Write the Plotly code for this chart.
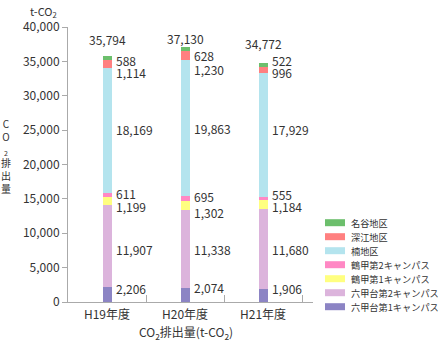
import plotly.graph_objects as go

years = ["H19年度", "H20年度", "H21年度"]
series_names = ["六甲台第1キャンパス", "六甲台第2キャンパス", "鶴甲第1キャンパス",
                "鶴甲第2キャンパス", "楠地区", "深江地区", "名谷地区"]
rokko1 = [2206, 2074, 1906]
rokko2 = [11907, 11338, 11680]
tsuru1 = [1199, 1302, 1184]
tsuru2 = [611, 695, 555]
kusunoki = [18169, 19863, 17929]
fukae = [1114, 1230, 996]
myodani = [588, 628, 522]
totals = [35794, 37130, 34772]
series_values = [rokko1, rokko2, tsuru1, tsuru2, kusunoki, fukae, myodani]
colors = ["#8c84c4", "#dcb4dc", "#ffff80", "#ff88c4", "#b4e4ee", "#ff8080", "#6cbf6c"]

# label pixel nudges (per series, per year) to avoid overlap
label_shift = [
    [6, 7, 7],
    [-4, -1, -1],
    [-6, -7, -2],
    [1, 2, 4],
    [1, -1, 6],
    [-9, -14, -3],
    [-3, -7, 4],
]
total_shift = [16, 8, 19]

FONT = "Noto Sans CJK JP"
TXT = "#333333"

fig = go.Figure()
for name, vals, col in zip(series_names, series_values, colors):
    fig.add_trace(go.Bar(x=years, y=vals, name=name, marker_color=col,
                         marker_line_width=0, width=0.115, showlegend=False))

ann = []
base = [0, 0, 0]
for si, vals in enumerate(series_values):
    for yi, v in enumerate(vals):
        ann.append(dict(x=years[yi], y=base[yi] + v / 2, text=f"{v:,}", showarrow=False,
                        xanchor="left", yanchor="middle", xshift=7, yshift=label_shift[si][yi],
                        font=dict(size=12, color=TXT, family=FONT)))
        base[yi] += v
for yi, t in enumerate(totals):
    ann.append(dict(x=years[yi], y=t, text=f"{t:,}", showarrow=False,
                    xanchor="center", yanchor="middle", yshift=total_shift[yi],
                    font=dict(size=12, color=TXT, family=FONT)))

# unit label, x title and vertical y title
ann.append(dict(xref="paper", yref="paper", x=-0.102, y=1.0, yshift=16, text="t-CO<sub>2</sub>",
                showarrow=False, xanchor="center", yanchor="middle",
                font=dict(size=11, color=TXT, family=FONT)))
ann.append(dict(xref="paper", yref="paper", x=(186 - 68) / 245.0, y=-30 / 275.0,
                text="CO<sub>2</sub>排出量(t-CO<sub>2</sub>)", showarrow=False,
                xanchor="center", yanchor="middle",
                font=dict(size=12, color=TXT, family=FONT)))
ann.append(dict(xref="paper", yref="paper", x=-0.255, y=0.53,
                text="C<br>O<br><sub>2</sub><br>排<br>出<br>量", showarrow=False,
                xanchor="center", yanchor="middle",
                font=dict(size=10, color=TXT, family=FONT)))

# custom legend (top item first)
shapes = []
leg_top = 222.7
step = 14.0
for i, (name, col) in enumerate(zip(series_names[::-1], colors[::-1])):
    ypix = leg_top + i * step
    yp = 1 - (ypix - 27) / 275.0
    hp = 3.5 / 275.0
    x0 = (325 - 68) / 245.0
    x1 = (345 - 68) / 245.0
    shapes.append(dict(type="rect", xref="paper", yref="paper", x0=x0, x1=x1,
                       y0=yp - hp, y1=yp + hp, fillcolor=col, line_width=0))
    ann.append(dict(xref="paper", yref="paper", x=(349 - 68) / 245.0, y=yp, text=name,
                    showarrow=False, xanchor="left", yanchor="middle",
                    font=dict(size=9.2, color=TXT, family=FONT)))

fig.update_layout(
    barmode="stack",
    width=439, height=341,
    margin=dict(l=68, r=126, t=27, b=39),
    plot_bgcolor="white", paper_bgcolor="white",
    font=dict(family=FONT, size=12, color=TXT),
    annotations=ann, shapes=shapes,
    bargap=0,
)
fig.update_xaxes(type="category", range=[-0.5, 2.64], tickson="boundaries",
                 ticks="inside", ticklen=7, tickcolor="#aaaaaa", showline=True,
                 linecolor="#aaaaaa", linewidth=1, showgrid=False,
                 ticklabelstandoff=2, automargin=False,
                 tickfont=dict(size=12, color=TXT, family=FONT))
fig.update_yaxes(range=[0, 40000], dtick=5000, tickformat=",d", ticks="outside",
                 ticklen=5, tickcolor="#aaaaaa", showline=True, linecolor="#aaaaaa",
                 linewidth=1, showgrid=False, zeroline=False, automargin=False,
                 tickfont=dict(size=12, color=TXT, family=FONT))

fig.write_html("out.html")
